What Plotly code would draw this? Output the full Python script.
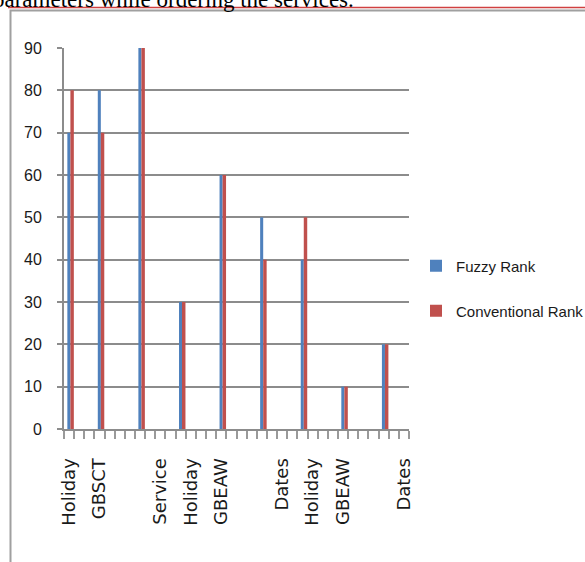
import plotly.graph_objects as go

# ---- data ----
category_count = 34
bar_categories = [0, 3, 7, 11, 15, 19, 23, 27, 31]
fuzzy_rank = [70, 80, 90, 30, 60, 50, 40, 10, 20]
conventional_rank = [80, 70, 90, 30, 60, 40, 50, 10, 20]
tick_categories = [0, 3, 9, 12, 15, 21, 24, 27, 33]
tick_labels = ["Holiday", "GBSCT", "Service", "Holiday", "GBEAW",
               "Dates", "Holiday", "GBEAW", "Dates"]
y_ticks = [0, 10, 20, 30, 40, 50, 60, 70, 80, 90]

W, H = 585, 562
L, R, T, B = 64, 176, 48, 133
PW, PH = W - L - R, H - T - B


def px_x(p):
    return (p - L) / PW


def px_y(p):
    return (H - B - p) / PH


narrow = "Liberation Sans Narrow, Arial Narrow, Liberation Sans, sans-serif"
grey = "#8c8c8c"

fig = go.Figure()
fig.add_trace(go.Bar(x=bar_categories, y=fuzzy_rank, name="Fuzzy Rank",
                     width=0.3, offset=-0.17,
                     marker=dict(color="#4F81BD", line=dict(width=0)),
                     legend="legend"))
fig.add_trace(go.Bar(x=bar_categories, y=conventional_rank, name="Conventional Rank",
                     width=0.34, offset=0.13,
                     marker=dict(color="#C0504D", line=dict(width=0)),
                     legend="legend2"))

boundaries = [i - 0.5 for i in range(category_count + 1)]

fig.update_layout(
    width=W, height=H,
    margin=dict(l=L, r=R, t=T, b=B, autoexpand=False),
    paper_bgcolor="white", plot_bgcolor="white",
    barmode="overlay",
    showlegend=True,
    xaxis=dict(
        range=[-0.5, category_count - 0.5],
        tickmode="array", tickvals=tick_categories, ticktext=tick_labels,
        tickangle=-90, ticks="", showgrid=False, zeroline=False,
        showline=True, linecolor=grey, linewidth=2,
        tickfont=dict(family="DejaVu Sans, Verdana, sans-serif", size=18, color="#1a1a1a"),
        ticklabelstandoff=20,
        minor=dict(ticks="outside", ticklen=8, tickwidth=2, tickcolor="#9a9a9a",
                   tickmode="array", tickvals=boundaries, showgrid=False),
    ),
    yaxis=dict(
        range=[0, 90], tickmode="array", tickvals=y_ticks,
        ticks="outside", ticklen=5, tickwidth=2, tickcolor=grey,
        showline=True, linecolor=grey, linewidth=2,
        showgrid=True, gridcolor=grey, gridwidth=2, zeroline=False,
        tickfont=dict(family=narrow, size=16, color="#1a1a1a"),
        ticklabelstandoff=12,
    ),
    legend=dict(x=px_x(416), y=px_y(266), xanchor="left", yanchor="middle",
                font=dict(family=narrow, size=15, color="#1a1a1a"),
                bgcolor="rgba(0,0,0,0)"),
    legend2=dict(x=px_x(416), y=px_y(311), xanchor="left", yanchor="middle",
                 font=dict(family=narrow, size=15, color="#1a1a1a"),
                 bgcolor="rgba(0,0,0,0)"),
)

# outer chart frame and document rule
fig.add_shape(type="rect", xref="paper", yref="paper",
              x0=px_x(10.5), x1=px_x(640), y0=px_y(640), y1=px_y(10.5),
              line=dict(color="#a0a0a0", width=2), fillcolor="rgba(0,0,0,0)", layer="below")
fig.add_shape(type="line", xref="paper", yref="paper",
              x0=px_x(8), x1=px_x(640), y0=px_y(7.5), y1=px_y(7.5),
              line=dict(color="#d04040", width=1.5))

fig.add_annotation(text="parameters while ordering the services.",
                   xref="paper", yref="paper", x=px_x(-9), y=px_y(14),
                   xanchor="left", yanchor="bottom", showarrow=False,
                   font=dict(family="Liberation Serif, Times New Roman, serif", size=23, color="black"))

fig.write_html("out.html")
